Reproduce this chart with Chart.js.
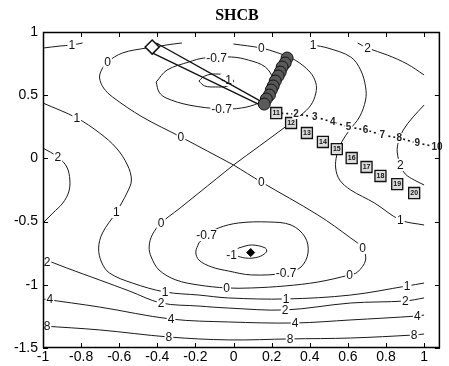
<!DOCTYPE html>
<html><head><meta charset="utf-8">
<script src="https://cdn.jsdelivr.net/npm/chart.js@4.4.0/dist/chart.umd.min.js"></script>
<style>html,body{margin:0;padding:0;background:#fff;}</style>
</head><body>
<canvas id="c" width="449" height="366"></canvas>
<script>
// ---- axis ticks ----
const xTicks = [-1,-0.8,-0.6,-0.4,-0.2,0,0.2,0.4,0.6,0.8,1];
const yTicks = [-1.5,-1,-0.5,0,0.5,1];

// ---- contour lines ----
const lvl1TopLeft = [[-1,0.873],[-0.911,0.889],[-0.849,0.897],[-0.792,0.913]];
const lvl1Left = [[-1,0.438],[-0.823,0.320],[-0.703,0.201],[-0.615,0.082],[-0.557,-0.052],[-0.536,-0.171],[-0.557,-0.266],[-0.615,-0.424],[-0.688,-0.590],[-0.708,-0.709],[-0.693,-0.820],[-0.651,-0.907],[-0.531,-0.986],[-0.359,-1.057],[-0.182,-1.081],[-0.026,-1.104],[0.276,-1.112],[0.615,-1.081],[0.911,-1.009],[1.0,-0.986]];
const lvl1Right = [[0.417,0.897],[0.495,0.873],[0.615,0.802],[0.667,0.699],[0.693,0.565],[0.693,0.462],[0.661,0.328],[0.609,0.225],[0.568,0.130],[0.542,0.027],[0.536,-0.076],[0.557,-0.171],[0.615,-0.250],[0.740,-0.353],[0.875,-0.487],[1.0,-0.527]];
const lvl2TopRight = [[0.651,0.913],[0.703,0.873],[0.807,0.818],[0.911,0.747],[1.0,0.660]];
const lvl2Left = [[-1,0.082],[-0.922,0.011],[-0.875,-0.068],[-0.859,-0.171],[-0.865,-0.266],[-0.896,-0.353],[-0.948,-0.432],[-1,-0.511]];
const lvl2Right = [[1.0,0.422],[0.938,0.320],[0.891,0.225],[0.865,0.130],[0.859,0.051],[0.875,-0.052],[0.901,-0.123],[0.948,-0.171],[1.0,-0.210]];
const lvl2Bottom = [[-1,-0.794],[-0.875,-0.867],[-0.703,-0.962],[-0.547,-1.049],[-0.380,-1.144],[-0.182,-1.168],[-0.026,-1.184],[0.271,-1.199],[0.615,-1.144],[0.901,-1.128],[1.0,-1.104]];
const lvl4 = [[-1,-1.112],[-0.703,-1.176],[-0.328,-1.271],[-0.026,-1.294],[0.323,-1.302],[0.615,-1.278],[0.964,-1.247],[1.0,-1.239]];
const lvl8 = [[-1,-1.326],[-0.703,-1.357],[-0.339,-1.413],[-0.026,-1.436],[0.297,-1.428],[0.615,-1.421],[0.948,-1.397],[1.0,-1.389]];
const lvl0Bottom = [[0,-0.052],[0.146,-0.187],[0.443,-0.448],[0.615,-0.630],[0.677,-0.709],[0.693,-0.804],[0.651,-0.899],[0.609,-0.922],[0.443,-0.978],[0.271,-1.009],[0.094,-1.025],[-0.036,-1.025],[-0.182,-1.002],[-0.302,-0.962],[-0.391,-0.883],[-0.432,-0.780],[-0.443,-0.701],[-0.427,-0.606],[-0.380,-0.511],[-0.286,-0.399],[-0.182,-0.273],[0,-0.052]];
const lvl0TopLeft = [[-0.271,0.913],[-0.354,0.897],[-0.406,0.881],[-0.458,0.873],[-0.583,0.834],[-0.661,0.763],[-0.693,0.699],[-0.703,0.636],[-0.682,0.557],[-0.635,0.486],[-0.479,0.328],[-0.276,0.169],[0,-0.052]];
const lvl0TopRight = [[0,0.905],[0.146,0.873],[0.234,0.834],[0.323,0.778],[0.401,0.683],[0.432,0.597],[0.432,0.517],[0.406,0.422],[0.354,0.343],[0.271,0.248],[0,-0.052]];
const lvlM07Top = [[-0.406,0.604],[-0.391,0.525],[-0.354,0.478],[-0.234,0.422],[-0.0625,0.391],[0.042,0.399],[0.130,0.438],[0.193,0.517],[0.208,0.620],[0.167,0.723],[0.078,0.778],[-0.010,0.802],[-0.156,0.794],[-0.234,0.763],[-0.349,0.699],[-0.406,0.604]];
const lvlM1Top = [[-0.182,0.612],[-0.151,0.652],[-0.094,0.668],[-0.031,0.652],[0.0,0.612],[-0.031,0.573],[-0.094,0.565],[-0.151,0.573],[-0.182,0.612]];
const lvlM07Bottom = [[-0.182,-0.669],[-0.198,-0.741],[-0.182,-0.804],[-0.115,-0.859],[-0.026,-0.891],[0.094,-0.922],[0.276,-0.907],[0.354,-0.859],[0.391,-0.748],[0.375,-0.622],[0.302,-0.527],[0.182,-0.503],[0.026,-0.511],[-0.078,-0.550],[-0.141,-0.606],[-0.182,-0.669]];
const lvlM1Bottom = [[0.026,-0.709],[0.094,-0.685],[0.167,-0.709],[0.172,-0.741],[0.130,-0.780],[0.0625,-0.788],[0.005,-0.756],[0.026,-0.709]];

// contour level labels: [x, y, text]
const contourLabels = [
 [-0.849,0.897,'1'],[-0.661,0.763,'0'],[-0.089,0.794,'-0.7'],[0.146,0.873,'0'],[0.417,0.897,'1'],[0.703,0.873,'2'],
 [-0.036,0.620,'-1'],[-0.0625,0.391,'-0.7'],[-0.823,0.320,'1'],[-0.276,0.169,'0'],[-0.922,0.011,'2'],[0.146,-0.187,'0'],[0.875,-0.052,'2'],
 [-0.615,-0.424,'1'],[-0.380,-0.511,'0'],[-0.141,-0.606,'-0.7'],[-0.010,-0.764,'-1'],[0.677,-0.709,'0'],[0.875,-0.487,'1'],
 [0.276,-0.907,'-0.7'],[0.609,-0.922,'0'],[-0.036,-1.025,'0'],[-0.979,-0.820,'2'],[-0.359,-1.057,'1'],[0.276,-1.112,'1'],[0.911,-1.009,'1'],
 [-0.380,-1.144,'2'],[0.271,-1.199,'2'],[0.901,-1.128,'2'],[-0.964,-1.112,'4'],[-0.328,-1.271,'4'],[0.323,-1.302,'4'],[0.964,-1.247,'4'],
 [-0.979,-1.326,'8'],[-0.339,-1.413,'8'],[0.297,-1.428,'8'],[0.948,-1.397,'8']
];

// ---- search paths ----
const searchX = [0.224,0.328,0.427,0.521,0.604,0.693,0.781,0.870,0.964,1.068];
const searchY = [0.359,0.351,0.328,0.288,0.248,0.225,0.185,0.161,0.122,0.090];
const searchLabels = ['1','2','3','4','5','6','7','8','9','10'];

const boxX = [0.224,0.302,0.385,0.469,0.542,0.620,0.698,0.771,0.859,0.948];
const boxY = [0.359,0.280,0.201,0.130,0.074,0.003,-0.068,-0.139,-0.203,-0.274];
const boxLabels = ['11','12','13','14','15','16','17','18','19','20'];

const clusterX = [0.281,0.271,0.255,0.245,0.234,0.219,0.208,0.198,0.188,0.172,0.161];
const clusterY = [0.794,0.755,0.723,0.683,0.652,0.612,0.573,0.541,0.501,0.470,0.430];

const startPoint = [-0.427,0.881];
const descentA = [[-0.406,0.913],[0.151,0.446]];
const descentB = [[-0.427,0.834],[0.130,0.430]];
const minimumPoint = [0.09,-0.745];

// ---- build datasets ----
const toXY = a => a.map(p => ({x:p[0], y:p[1]}));
const zipXY = (xs, ys) => xs.map((v,i) => ({x:v, y:ys[i]}));
const contours = [lvl1TopLeft,lvl1Left,lvl1Right,lvl2TopRight,lvl2Left,lvl2Right,lvl2Bottom,lvl4,lvl8,
  lvl0Bottom,lvl0TopLeft,lvl0TopRight,lvlM07Top,lvlM1Top,lvlM07Bottom,lvlM1Bottom];

const datasets = [
  {data:[{x:minimumPoint[0],y:minimumPoint[1]}], pointStyle:'rectRot', pointRadius:4, backgroundColor:'#000', borderColor:'#000', borderWidth:1, showLine:false},
  {data:zipXY(boxX,boxY), pointStyle:'rect', pointRadius:7.8, backgroundColor:'#dcdcdc', borderColor:'#111', borderWidth:1.3, showLine:false},
  {data:zipXY(clusterX,clusterY), pointStyle:'circle', pointRadius:6, backgroundColor:'#5a5a5a', borderColor:'#111', borderWidth:1, showLine:false},
  {data:[{x:startPoint[0],y:startPoint[1]}], pointStyle:'rectRot', pointRadius:7, backgroundColor:'#fff', borderColor:'#111', borderWidth:1.6, showLine:false},
  {data:toXY(descentA), showLine:true, borderColor:'#111', borderWidth:1.4, pointRadius:0},
  {data:toXY(descentB), showLine:true, borderColor:'#111', borderWidth:1.4, pointRadius:0},
  {data:zipXY(searchX,searchY), showLine:true, borderColor:'#111', borderWidth:1.6, borderDash:[2,3], pointRadius:0}
];
const firstContour = datasets.length;
contours.forEach(c => datasets.push({data:toXY(c), showLine:true, borderColor:'#1a1a1a', borderWidth:1, pointRadius:0, tension:0.35}));

const deco = {
  id:'deco',
  afterDatasetDraw(chart, args){
    if (args.index !== firstContour) return;
    const {ctx, scales:{x,y}} = chart;
    ctx.save();
    ctx.font = '12px "Liberation Sans", Arial, sans-serif';
    ctx.textAlign = 'center'; ctx.textBaseline = 'middle';
    contourLabels.forEach(([vx,vy,t]) => {
      const px = x.getPixelForValue(vx), py = y.getPixelForValue(vy);
      const w = ctx.measureText(t).width + 2;
      ctx.fillStyle = '#fff'; ctx.fillRect(px - w/2, py - 6, w, 12);
      ctx.fillStyle = '#111'; ctx.fillText(t, px, py + 0.5);
    });
    ctx.restore();
  },
  afterDatasetsDraw(chart){
    const {ctx, scales:{x,y}} = chart;
    ctx.save();
    ctx.textAlign = 'center'; ctx.textBaseline = 'middle';
    ctx.font = 'bold 10px "Liberation Sans", Arial, sans-serif';
    searchLabels.forEach((t,i) => {
      if (i === 0) return;
      const px = x.getPixelForValue(searchX[i]), py = y.getPixelForValue(searchY[i]);
      const w = ctx.measureText(t).width + 2;
      ctx.fillStyle = '#fff'; ctx.fillRect(px - w/2, py - 5, w, 10);
      ctx.fillStyle = '#222'; ctx.fillText(t, px, py + 0.5);
    });
    ctx.font = 'bold 7px "Liberation Sans", Arial, sans-serif';
    boxLabels.forEach((t,i) => {
      const px = x.getPixelForValue(boxX[i]), py = y.getPixelForValue(boxY[i]);
      ctx.fillStyle = '#111'; ctx.fillText(t, px, py + 0.5);
    });
    ctx.restore();
  },
  afterDraw(chart){
    const {ctx, chartArea:a, scales:{x,y}} = chart;
    ctx.save();
    ctx.strokeStyle = '#000'; ctx.lineWidth = 1.5;
    ctx.strokeRect(a.left + 0.5, a.top + 0.5, a.right - a.left - 1, a.bottom - a.top - 1);
    ctx.lineWidth = 1;
    ctx.beginPath();
    xTicks.forEach(v => {
      const px = Math.round(x.getPixelForValue(v)) + 0.5;
      ctx.moveTo(px, a.bottom); ctx.lineTo(px, a.bottom - 5);
      ctx.moveTo(px, a.top); ctx.lineTo(px, a.top + 5);
    });
    yTicks.forEach(v => {
      const py = Math.round(y.getPixelForValue(v)) + 0.5;
      ctx.moveTo(a.left, py); ctx.lineTo(a.left + 5, py);
      ctx.moveTo(a.right, py); ctx.lineTo(a.right - 5, py);
    });
    ctx.stroke();
    ctx.fillStyle = '#000';
    ctx.font = 'bold 16px "Liberation Serif", "Times New Roman", serif';
    ctx.textAlign = 'center'; ctx.textBaseline = 'middle';
    ctx.fillText('SHCB', 237, 16);
    ctx.restore();
  }
};

const tickFont = {family:'"Liberation Sans", Arial, sans-serif', size:14};
new Chart(document.getElementById('c'), {
  type:'scatter',
  data:{datasets},
  options:{
    responsive:false, animation:false, devicePixelRatio:1,
    layout:{padding:{top:32, right:6, left:0, bottom:0}},
    plugins:{legend:{display:false}, tooltip:{enabled:false}, title:{display:false}},
    scales:{
      x:{type:'linear', min:-1, max:1.083,
         afterBuildTicks: s => { s.ticks = xTicks.map(v => ({value:v})); },
         afterFit: s => { s.height = 18; },
         grid:{display:false, drawTicks:false}, border:{display:false},
         ticks:{font:tickFont, color:'#000', padding:1, maxRotation:0, autoSkip:false,
                callback: v => String(Math.round(v*10)/10)}},
      y:{type:'linear', min:-1.5, max:1,
         afterBuildTicks: s => { s.ticks = yTicks.map(v => ({value:v})); },
         afterFit: s => { s.width = 43; },
         grid:{display:false, drawTicks:false}, border:{display:false},
         ticks:{font:tickFont, color:'#000', padding:5, autoSkip:false,
                callback: v => String(Math.round(v*10)/10)}}
    }
  },
  plugins:[deco]
});
</script>
</body></html>
